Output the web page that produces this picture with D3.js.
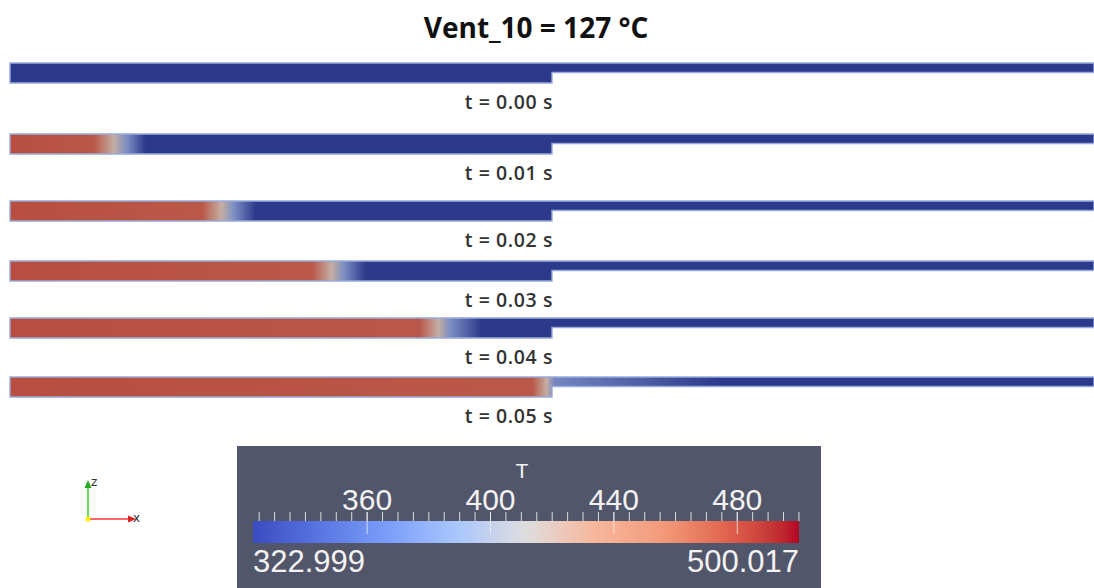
<!DOCTYPE html>
<html>
<head>
<meta charset="utf-8">
<script src="https://cdn.jsdelivr.net/npm/d3@7"></script>
<style>
  body { margin: 0; background: #fff; }
  svg { display: block; }
</style>
</head>
<body>
<svg id="chart" width="1094" height="588"></svg>
<script>
// time of each snapshot (s)
const times = ["0.00", "0.01", "0.02", "0.03", "0.04", "0.05"];
// temperature profile along the pipe axis: [position, T(K)]
// position 0..100 = wide section, 100..200 = narrow outlet section
const profiles = [
  [[0, 323], [200, 323]],
  [[0, 496], [15.5, 488], [19.2, 420], [21.6, 380], [25.0, 323], [200, 323]],
  [[0, 496], [35.5, 488], [39.0, 420], [41.4, 380], [45.3, 323], [200, 323]],
  [[0, 496], [55.8, 488], [59.3, 420], [61.7, 380], [65.6, 323], [200, 323]],
  [[0, 496], [75.6, 488], [79.0, 420], [81.3, 380], [87.0, 323], [200, 323]],
  [[0, 496], [96.4, 488], [99.0, 420], [100.5, 375], [131, 323], [200, 323]]
];
const tMin = 322.999, tMax = 500.017;
const majorTicks = [360, 400, 440, 480];
const minorTicks = d3.range(325, 501, 5);
// ParaView "Cool to Warm" control colours, evenly spaced from tMin to tMax
const coolWarm = ["#3b4cc0", "#5977e3", "#7b9ff9", "#aac7fd", "#dddddd",
                  "#f6b79c", "#f49a7b", "#de604d", "#b40426"];

const svg = d3.select("#chart");
const W = 1094, H = 588;

// layout
const stripTops = [63, 134, 201, 261, 318, 377];
const wideH = 20, narrowH = 9.5;

const x = d3.scaleLinear().domain([0, 200]).range([10, 1094]);
// muted version of the map as it appears in the shaded render
const color = d3.scaleLinear()
  .domain([tMin, 380, 420, tMax])
  .range(["#2c3a8c", "#7b8dc4", "#c4aea4", "#b6483a"])
  .interpolate(d3.interpolateLab);

svg.append("text")
   .attr("x", 536)
   .attr("y", 38)
   .attr("text-anchor", "middle")
   .attr("font-family", "'Open Sans', sans-serif")
   .attr("font-weight", 700)
   .attr("font-size", 28)
   .attr("fill", "#111")
   .text("Vent_10 = 127 °C");

const defs = svg.append("defs");

profiles.forEach((prof, i) => {
  const top = stripTops[i];
  const grad = defs.append("linearGradient")
                   .attr("id", `g${i}`)
                   .attr("gradientUnits", "userSpaceOnUse")
                   .attr("x1", x(0)).attr("x2", x(200))
                   .attr("y1", 0).attr("y2", 0);
  grad.selectAll("stop")
      .data(prof)
      .join("stop")
        .attr("offset", d => d[0] / 200)
        .attr("stop-color", d => color(d[1]));

  const path = d3.path();
  path.moveTo(x(0), top);
  path.lineTo(x(200), top);
  path.lineTo(x(200), top + narrowH);
  path.lineTo(x(100), top + narrowH);
  path.lineTo(x(100), top + wideH);
  path.lineTo(x(0), top + wideH);
  path.closePath();

  svg.append("path")
     .attr("d", path.toString())
     .attr("fill", `url(#g${i})`)
     .attr("stroke", "#98abdc")
     .attr("stroke-width", 1.4);

  svg.append("text")
     .attr("x", x(100) + 1)
     .attr("y", top + 39)
     .attr("dy", "0.35em")
     .attr("text-anchor", "end")
     .attr("font-family", "'Open Sans', sans-serif")
     .attr("font-weight", 600)
     .attr("font-size", 19.5)
     .attr("letter-spacing", 0.6)
     .attr("fill", "#333")
     .text(`t = ${times[i]} s`);
});

// colour legend
const lg = svg.append("g");
lg.append("rect")
  .attr("x", 237).attr("y", 446)
  .attr("width", 584).attr("height", H - 446)
  .attr("fill", "#52566b");

const cx = d3.scaleLinear().domain([tMin, tMax]).range([253, 799]);
const cmap = d3.scaleLinear()
  .domain(coolWarm.map((c, k) => tMin + k * (tMax - tMin) / (coolWarm.length - 1)))
  .range(coolWarm)
  .interpolate(d3.interpolateLab);
const lgGrad = defs.append("linearGradient").attr("id", "lg");
lgGrad.selectAll("stop")
      .data(d3.range(0, 1.0001, 0.025))
      .join("stop")
        .attr("offset", d => d)
        .attr("stop-color", d => cmap(tMin + d * (tMax - tMin)));
lg.append("rect")
  .attr("x", cx(tMin)).attr("y", 521)
  .attr("width", cx(tMax) - cx(tMin)).attr("height", 22)
  .attr("fill", "url(#lg)");

lg.selectAll(".minor")
  .data(minorTicks)
  .join("line")
    .attr("class", "minor")
    .attr("x1", d => cx(d)).attr("x2", d => cx(d))
    .attr("y1", 512).attr("y2", 521)
    .attr("stroke", "#dcdcdc")
    .attr("stroke-width", 1);
lg.selectAll(".major")
  .data(majorTicks)
  .join("line")
    .attr("class", "major")
    .attr("x1", d => cx(d)).attr("x2", d => cx(d))
    .attr("y1", 512).attr("y2", 534)
    .attr("stroke", "#eeeeee")
    .attr("stroke-opacity", 0.8)
    .attr("stroke-width", 1);
lg.selectAll(".lbl")
  .data(majorTicks)
  .join("text")
    .attr("class", "lbl")
    .attr("x", d => cx(d))
    .attr("y", 510)
    .attr("text-anchor", "middle")
    .attr("font-family", "'Liberation Sans', Arial, sans-serif")
    .attr("font-size", 30)
    .attr("fill", "#f2f2f2")
    .text(d => d);
lg.append("text")
  .attr("x", 522).attr("y", 478)
  .attr("text-anchor", "middle")
  .attr("font-family", "'Liberation Sans', Arial, sans-serif")
  .attr("font-size", 21)
  .attr("fill", "#f2f2f2")
  .text("T");
lg.append("text")
  .attr("x", cx(tMin)).attr("y", 572)
  .attr("font-family", "'Liberation Sans', Arial, sans-serif")
  .attr("font-size", 31)
  .attr("fill", "#f2f2f2")
  .text(d3.format(".3f")(tMin));
lg.append("text")
  .attr("x", cx(tMax)).attr("y", 572)
  .attr("text-anchor", "end")
  .attr("font-family", "'Liberation Sans', Arial, sans-serif")
  .attr("font-size", 31)
  .attr("fill", "#f2f2f2")
  .text(d3.format(".3f")(tMax));

// orientation triad
const tri = svg.append("g").attr("transform", "translate(88,519)");
tri.append("line").attr("x1", 0).attr("y1", 0).attr("x2", 0).attr("y2", -34)
   .attr("stroke", "#66dd55").attr("stroke-width", 2);
tri.append("path").attr("d", "M-3.5,-31 L0,-39 L3.5,-31 Z").attr("fill", "#22aa22");
tri.append("line").attr("x1", 0).attr("y1", 0).attr("x2", 42).attr("y2", 0)
   .attr("stroke", "#ff6666").attr("stroke-width", 2);
tri.append("path").attr("d", "M40,-3.5 L48,0 L40,3.5 Z").attr("fill", "#dd2222");
tri.append("circle").attr("r", 2.5).attr("fill", "#ffee00");
tri.append("text").attr("x", 3).attr("y", -33)
   .attr("font-family", "'DejaVu Sans', sans-serif").attr("font-size", 12)
   .attr("fill", "#333").text("z");
tri.append("text").attr("x", 45).attr("y", 3)
   .attr("font-family", "'DejaVu Sans', sans-serif").attr("font-size", 12)
   .attr("fill", "#333").text("x");
</script>
</body>
</html>
